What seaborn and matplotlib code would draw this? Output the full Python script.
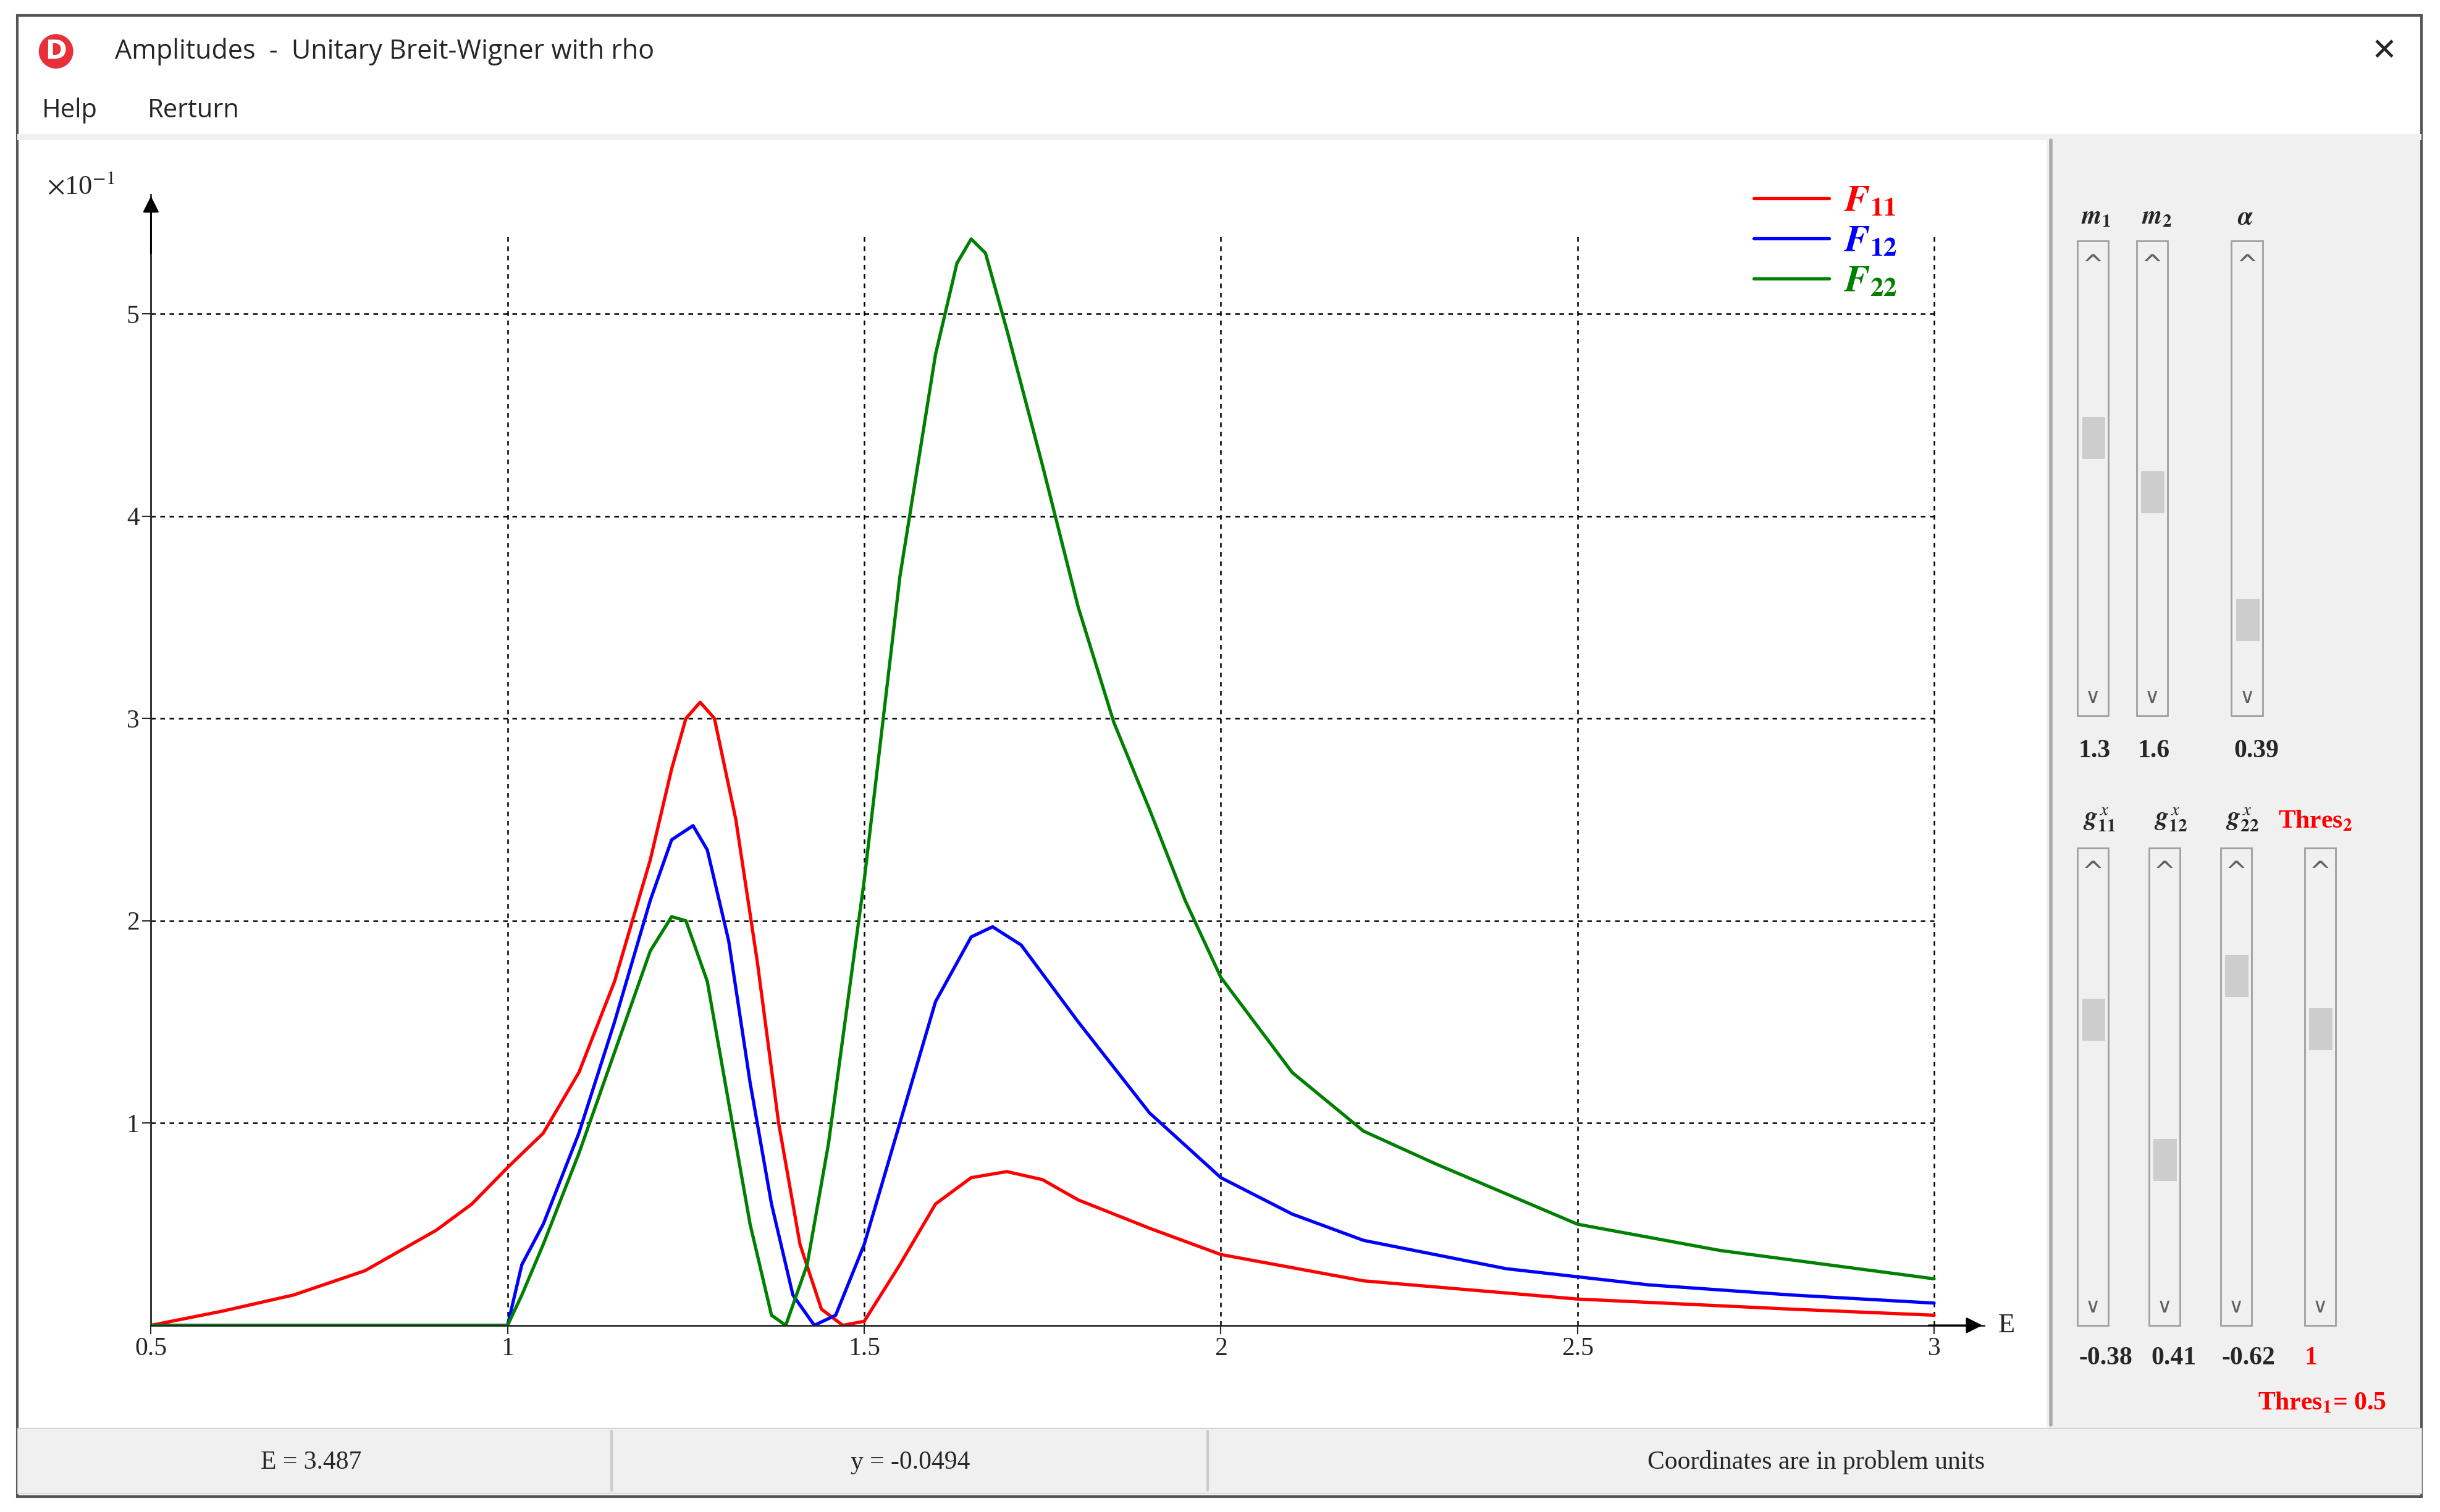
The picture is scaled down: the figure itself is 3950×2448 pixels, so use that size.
import matplotlib
matplotlib.use('Agg')
import matplotlib.pyplot as plt
from matplotlib.patches import Rectangle
from matplotlib.lines import Line2D
import seaborn as sns
import pandas as pd

# curve values as shown on the screen (units of 1e-1)
e_f11 = [0.5, 0.6, 0.7, 0.8, 0.9, 0.95, 1.0, 1.05, 1.1, 1.15, 1.2, 1.23, 1.25, 1.27, 1.29, 1.32, 1.35, 1.38,
         1.41, 1.44, 1.47, 1.5, 1.55, 1.6, 1.65, 1.7, 1.75, 1.8, 1.9, 2.0, 2.2, 2.5, 2.8, 3.0]
f11 = [0.0, 0.07, 0.15, 0.27, 0.47, 0.6, 0.78, 0.95, 1.25, 1.7, 2.3, 2.75, 3.0, 3.08, 3.0, 2.5, 1.8, 1.0,
       0.4, 0.08, 0.0, 0.02, 0.3, 0.6, 0.73, 0.76, 0.72, 0.62, 0.48, 0.35, 0.22, 0.13, 0.08, 0.05]
e_f12 = [0.5, 1.0, 1.02, 1.05, 1.1, 1.15, 1.2, 1.23, 1.26, 1.28, 1.31, 1.34, 1.37, 1.4, 1.43, 1.46, 1.5,
         1.55, 1.6, 1.65, 1.68, 1.72, 1.8, 1.9, 2.0, 2.1, 2.2, 2.4, 2.6, 2.8, 3.0]
f12 = [0.0, 0.0, 0.3, 0.5, 0.95, 1.5, 2.1, 2.4, 2.47, 2.35, 1.9, 1.2, 0.6, 0.15, 0.0, 0.05, 0.4,
       1.0, 1.6, 1.92, 1.97, 1.88, 1.5, 1.05, 0.73, 0.55, 0.42, 0.28, 0.2, 0.15, 0.11]
e_f22 = [0.5, 1.0, 1.02, 1.05, 1.1, 1.15, 1.2, 1.23, 1.25, 1.28, 1.31, 1.34, 1.37, 1.39, 1.42, 1.45, 1.5,
         1.55, 1.6, 1.63, 1.65, 1.67, 1.7, 1.75, 1.8, 1.85, 1.9, 1.95, 2.0, 2.1, 2.2, 2.3, 2.5, 2.7, 3.0]
f22 = [0.0, 0.0, 0.15, 0.4, 0.85, 1.35, 1.85, 2.02, 2.0, 1.7, 1.1, 0.5, 0.05, 0.0, 0.3, 0.9, 2.2,
       3.7, 4.8, 5.25, 5.37, 5.3, 4.92, 4.25, 3.55, 2.98, 2.55, 2.1, 1.72, 1.25, 0.96, 0.8, 0.5, 0.37, 0.23]

x_ticks = [0.5, 1, 1.5, 2, 2.5, 3]
y_ticks = [1, 2, 3, 4, 5]

W, H = 1568, 972
def fx(px):
    return px / W
def fy(py):
    return 1 - py / H

sns.set_style('white')
plt.rcParams['font.family'] = ['Liberation Serif', 'DejaVu Sans']
plt.rcParams['mathtext.fontset'] = 'stix'

fig = plt.figure(figsize=(39.5, 24.48), dpi=100)
fig.patch.set_facecolor('white')

# window chrome
fig.patches.append(Rectangle((fx(11), fy(962)), fx(1545), fy(10) - fy(962), transform=fig.transFigure,
                             fill=False, ec='#555555', lw=3))
fig.patches.append(Rectangle((fx(11), fy(90)), fx(1545), fy(86) - fy(90), transform=fig.transFigure,
                             fc='#f0f0f0', ec='none'))
fig.patches.append(Rectangle((fx(1315), fy(918)), fx(1555) - fx(1315), fy(88) - fy(918), transform=fig.transFigure,
                             fc='#f0f0f0', ec='none'))
fig.add_artist(Line2D([fx(1318), fx(1318)], [fy(90), fy(916)], color='#aaaaaa', lw=4))
fig.patches.append(Rectangle((fx(11), fy(960)), fx(1545), fy(918) - fy(960), transform=fig.transFigure,
                             fc='#f0f0f0', ec='#cccccc'))
for px in [393, 776]:
    fig.add_artist(Line2D([fx(px), fx(px)], [fy(958), fy(920)], color='#cccccc', lw=3))
fig.text(fx(200), fy(940), 'E = 3.487', ha='center', va='center', fontsize=30)
fig.text(fx(585), fy(940), 'y = -0.0494', ha='center', va='center', fontsize=30)
fig.text(fx(1167), fy(940), 'Coordinates are in problem units', ha='center', va='center', fontsize=30)

fig.text(fx(36), fy(33), 'D', ha='center', va='center', fontsize=30, color='white', weight='bold',
         family='DejaVu Sans', bbox=dict(boxstyle='circle,pad=0.15', fc='#e8303a', ec='#e8303a'))
fig.text(fx(74), fy(33), 'Amplitudes  -  Unitary Breit-Wigner with rho', ha='left', va='center',
         fontsize=31, family='Open Sans')
fig.text(fx(1532), fy(33), '\u2715', ha='center', va='center', fontsize=36, family='DejaVu Sans')
fig.text(fx(27), fy(71), 'Help', ha='left', va='center', fontsize=30, family='Open Sans')
fig.text(fx(95), fy(71), 'Rerturn', ha='left', va='center', fontsize=30, family='Open Sans')

# main plot
ax = fig.add_axes([fx(97), fy(852), fx(1275) - fx(97), fy(125) - fy(852)])
colors = {'F11': '#ff0000', 'F12': '#0000ff', 'F22': '#008000'}
labels = {'F11': r'$\mathbfit{F}_{\mathbf{11}}$', 'F12': r'$\mathbfit{F}_{\mathbf{12}}$',
          'F22': r'$\mathbfit{F}_{\mathbf{22}}$'}
for name, xs, ys in [('F11', e_f11, f11), ('F12', e_f12, f12), ('F22', e_f22, f22)]:
    df = pd.DataFrame({'E': xs, 'F': ys})
    sns.lineplot(data=df, x='E', y='F', ax=ax, color=colors[name], lw=3.8, label=labels[name])

xmax, ymax = 3.07, 5.59
ax.set_xlim(0.5, xmax)
ax.set_ylim(0, ymax)
for v in x_ticks[1:]:
    ax.axvline(v, ymin=0, ymax=5.4 / ymax, color='black', ls=(0, (3, 3)), lw=1.8, zorder=0)
for v in y_ticks:
    ax.axhline(v, xmin=0, xmax=(3 - 0.5) / (xmax - 0.5), color='black', ls=(0, (3, 3)), lw=1.8, zorder=0)
for s in ['top', 'right']:
    ax.spines[s].set_visible(False)
ax.spines['left'].set_linewidth(2)
ax.spines['bottom'].set_linewidth(2)
ax.annotate('', xy=(0.5, ymax), xytext=(0.5, ymax - 0.3),
            arrowprops=dict(arrowstyle='-|>', color='black', lw=2, mutation_scale=40))
ax.annotate('', xy=(xmax, 0), xytext=(xmax - 0.08, 0),
            arrowprops=dict(arrowstyle='-|>', color='black', lw=2, mutation_scale=40))
ax.text(xmax + 0.02, 0, 'E', ha='left', va='center', fontsize=32)
ax.set_xticks(x_ticks)
ax.set_xticklabels([str(v) for v in x_ticks])
ax.set_yticks(y_ticks)
ax.tick_params(direction='out', length=10, width=1.5, labelsize=30, left=True, bottom=True)
ax.set_xlabel('')
ax.set_ylabel('')
fig.text(fx(30), fy(120), r'$\times$10$^{-1}$', ha='left', va='center', fontsize=32)

leg = ax.legend(loc='upper left', bbox_to_anchor=(fx(1105), fy(97)), bbox_transform=fig.transFigure,
                frameon=False, fontsize=44, handlelength=2.0, labelspacing=0.15, handletextpad=0.4)
for t, c in zip(leg.get_texts(), colors.values()):
    t.set_color(c)

# slider panel
def slider(x0, y0, y1, t0, t1):
    fig.patches.append(Rectangle((fx(x0), fy(y1)), fx(20), fy(y0) - fy(y1), transform=fig.transFigure,
                                 fc='#f0f0f0', ec='#a0a0a0', lw=2))
    fig.patches.append(Rectangle((fx(x0 + 3), fy(t1)), fx(15), fy(t0) - fy(t1), transform=fig.transFigure,
                                 fc='#cdcdcd', ec='none'))
    fig.text(fx(x0 + 10), fy(y0 + 16), '^', ha='center', va='center', fontsize=30, color='#606060',
             family='DejaVu Sans')
    fig.text(fx(x0 + 10), fy(y1 - 12), '\u2228', ha='center', va='center', fontsize=24, color='#606060',
             family='DejaVu Sans')

for x0, t0 in [(1335, 268), (1373, 303), (1434, 385)]:
    slider(x0, 155, 460, t0, t0 + 27)
for x0, t0 in [(1335, 642), (1381, 732), (1427, 614), (1481, 648)]:
    slider(x0, 545, 852, t0, t0 + 27)

lab = dict(ha='center', va='center', fontsize=30, weight='bold')
fig.text(fx(1347), fy(140), r'$\mathbfit{m}_{\mathbf{1}}$', **lab)
fig.text(fx(1386), fy(140), r'$\mathbfit{m}_{\mathbf{2}}$', **lab)
fig.text(fx(1443), fy(140), r'$\mathbfit{\alpha}$', **lab)
fig.text(fx(1346), fy(483), '1.3', **lab)
fig.text(fx(1384), fy(483), '1.6', **lab)
fig.text(fx(1450), fy(483), '0.39', **lab)
fig.text(fx(1349), fy(527), r'$\mathbfit{g}^{\,x}_{\mathbf{11}}$', **lab)
fig.text(fx(1395), fy(527), r'$\mathbfit{g}^{\,x}_{\mathbf{12}}$', **lab)
fig.text(fx(1441), fy(527), r'$\mathbfit{g}^{\,x}_{\mathbf{22}}$', **lab)
fig.text(fx(1488), fy(528), r'Thres$_{\mathbf{2}}$', color='red', **lab)
fig.text(fx(1353), fy(873), '-0.38', **lab)
fig.text(fx(1397), fy(873), '0.41', **lab)
fig.text(fx(1445), fy(873), '-0.62', **lab)
fig.text(fx(1485), fy(873), '1', color='red', **lab)
fig.text(fx(1492), fy(902), r'Thres$_{\mathbf{1}}$= 0.5', color='red', **lab)

fig.savefig('out.png', dpi=100)
